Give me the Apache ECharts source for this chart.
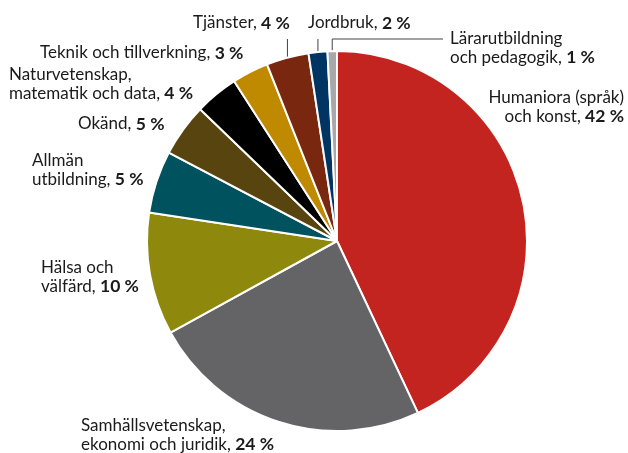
<!DOCTYPE html>
<html>
<head>
<meta charset="utf-8">
<script src="https://cdn.jsdelivr.net/npm/echarts@6/dist/echarts.min.js"></script>
<style>
  html, body { margin: 0; padding: 0; background: #fff; }
  #chart { width: 628px; height: 453px; }
</style>
</head>
<body>
<div id="chart"></div>
<script>
// Ämnesområden, andel i procent
const categories = [
  'Humaniora (språk)\noch konst',
  'Samhällsvetenskap,\nekonomi och juridik',
  'Hälsa och\nvälfärd',
  'Allmän\nutbildning',
  'Okänd',
  'Naturvetenskap,\nmatematik och data',
  'Teknik och tillverkning',
  'Tjänster',
  'Jordbruk',
  'Lärarutbildning\noch pedagogik'
];
// sektorernas storlek
const values = [43.0, 24.0, 10.4, 5.3, 4.5, 3.7, 3.1, 3.6, 1.6, 0.8];
// publicerade, avrundade andelar i etiketterna
const shares = [42, 24, 10, 5, 5, 4, 3, 4, 2, 1];
const colors = ['#C4241F', '#646466', '#8E890C', '#00525E', '#58440E',
                '#000000', '#C08A00', '#7A2710', '#003462', '#A8A8AA'];

// etikettplacering: [x, y, align], y = mitt på textblocket
const labelPos = [
  [624, 107, 'right'],
  [81, 435, 'left'],
  [41, 277, 'left'],
  [32, 170, 'left'],
  [78, 124, 'left'],
  [9, 84, 'left'],
  [40, 53, 'left'],
  [193, 23, 'left'],
  [308, 23, 'left'],
  [450, 48, 'left']
];
const withLine = [7, 8, 9]; // etiketter med linje

const chart = echarts.init(document.getElementById('chart'), null, { renderer: 'canvas' });

const option = {
  animation: false,
  textStyle: { fontFamily: 'Lato, sans-serif' },
  series: [{
    type: 'pie',
    center: [337, 241],
    radius: 190,
    startAngle: 90,
    clockwise: true,
    avoidLabelOverlap: false,
    itemStyle: { borderColor: '#fff', borderWidth: 2 },
    data: categories.map((c, i) => ({
      name: c,
      value: values[i],
      itemStyle: { color: colors[i] },
      labelLine: { show: withLine.includes(i) }
    })),
    label: {
      show: true,
      position: 'outside',
      color: '#1a1a1a',
      fontSize: 17,
      lineHeight: 19,
      fontFamily: 'Lato, sans-serif',
      formatter: p => p.name + ', {b|' + shares[p.dataIndex] + ' %}',
      rich: {
        b: { fontWeight: 'bold', fontSize: 17.5, lineHeight: 19, color: '#1a1a1a', fontFamily: 'Lato, sans-serif' }
      }
    },
    labelLine: {
      lineStyle: { color: '#444', width: 1 }
    },
    labelLayout: function (params) {
      const i = params.dataIndex;
      const pos = labelPos[i];
      const out = { x: pos[0], y: pos[1], align: pos[2], verticalAlign: 'middle' };
      if (withLine.includes(i) && params.labelLinePoints) {
        const s = params.labelLinePoints[0];
        if (i === 9) {
          out.labelLinePoints = [[s[0], s[1]], [s[0], 39], [443, 39]];
        } else {
          out.labelLinePoints = [[s[0], s[1]], [s[0], 39], [s[0], 39]];
        }
      }
      return out;
    }
  }]
};

chart.setOption(option);
</script>
</body>
</html>
